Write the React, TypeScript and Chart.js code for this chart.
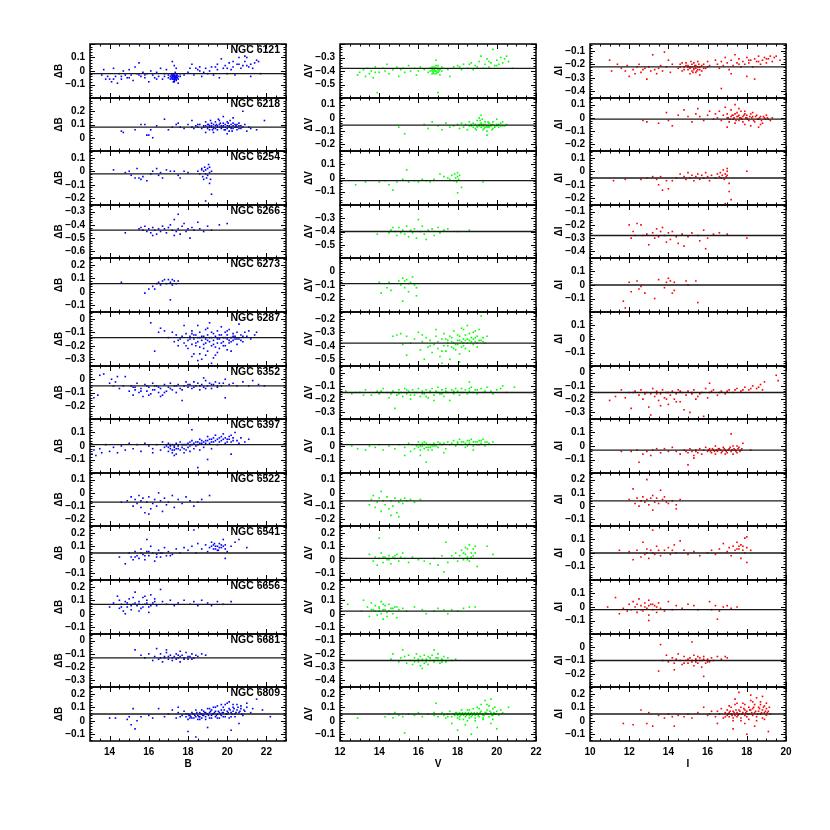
import React, { useEffect, useRef } from 'react';
import { Chart, registerables } from 'chart.js';
Chart.register(...registerables);

// ---------------- DATA ----------------
const CLUSTERS = ['NGC 6121', 'NGC 6218', 'NGC 6254', 'NGC 6266', 'NGC 6273', 'NGC 6287', 'NGC 6352', 'NGC 6397', 'NGC 6522', 'NGC 6541', 'NGC 6656', 'NGC 6681', 'NGC 6809'];

const B_YMIN = [-0.2, -0.1, -0.25, -0.65, -0.15, -0.35, -0.3, -0.2, -0.25, -0.15, -0.15, -0.35, -0.15];
const B_YMAX = [0.2, 0.3, 0.15, -0.25, 0.25, 0.05, 0.1, 0.2, 0.15, 0.25, 0.25, 0.05, 0.25];
const B_MEAN = [-0.02, 0.08, -0.02, -0.44, 0.06, -0.14, -0.05, 0.01, -0.07, 0.05, 0.07, -0.13, 0.05];

const V_YMIN = [-0.6, -0.25, -0.2, -0.6, -0.3, -0.55, -0.35, -0.2, -0.25, -0.15, -0.15, -0.45, -0.15];
const V_YMAX = [-0.2, 0.15, 0.2, -0.2, 0.1, -0.15, 0.05, 0.2, 0.15, 0.25, 0.25, -0.05, 0.25];
const V_MEAN = [-0.38, -0.055, -0.02, -0.4, -0.09, -0.38, -0.15, 0.01, -0.06, 0.01, 0.02, -0.25, 0.05];

const I_YMIN = [-0.45, -0.25, -0.25, -0.45, -0.2, -0.2, -0.35, -0.2, -0.15, -0.2, -0.2, -0.3, -0.15];
const I_YMAX = [-0.05, 0.15, 0.15, -0.05, 0.2, 0.2, 0.05, 0.2, 0.25, 0.2, 0.2, 0.1, 0.25];
const I_MEAN = [-0.22, -0.01, -0.05, -0.28, 0.0, null, -0.15, -0.03, 0.04, 0.0, -0.02, -0.1, 0.05];

// flat [mag, delta, mag, delta, ...]
const B_6121 = [13.6,-0.03,13.7,0.01,13.9,-0.04,14.0,-0.06,14.1,-0.08,14.2,0.02,14.3,-0.04,14.4,-0.09,14.5,-0.02,14.6,-0.06,14.7,0.0,14.8,-0.03,14.9,-0.05,15.0,0.01,15.1,-0.03,15.2,-0.07,15.3,0.03,15.4,-0.02,15.5,0.06,15.6,-0.04,15.7,-0.01,15.8,-0.05,15.9,-0.02,16.0,-0.08,16.1,0.0,16.2,-0.03,16.3,-0.05,16.4,-0.01,16.5,-0.04,16.6,0.02,16.7,-0.06,16.8,-0.02,16.9,0.01,17.0,-0.03,17.1,-0.04,17.15,-0.05,17.2,-0.03,17.2,-0.06,17.25,-0.04,17.3,-0.02,17.3,-0.05,17.3,-0.07,17.35,-0.04,17.4,-0.03,17.4,-0.06,17.45,-0.05,17.5,-0.04,17.2,0.07,17.3,0.04,17.4,0.02,17.5,-0.09,17.6,-0.02,17.25,-0.08,17.35,-0.01,17.8,-0.03,18.0,-0.01,18.2,0.05,18.3,-0.03,18.5,0.01,18.6,0.03,18.7,-0.04,18.9,0.02,19.0,-0.02,19.1,0.0,19.3,-0.03,19.4,0.03,19.5,0.01,19.6,-0.05,19.8,0.02,19.9,0.04,20.0,-0.02,20.1,0.06,20.2,0.01,20.3,0.03,20.4,-0.03,20.5,0.05,20.6,0.1,20.7,0.02,20.8,0.04,20.9,0.07,21.0,0.1,21.1,0.03,21.2,0.05,21.3,0.02,21.4,0.06,21.6,0.07,21.7,-0.02,20.9,0.11,18.4,0.02,19.7,0.09,21.2,-0.04];
const B_6121_CORE = [17.2,-0.05,17.25,-0.03,17.3,-0.04,17.35,-0.06,17.4,-0.05,17.3,-0.03,17.2,-0.04,17.45,-0.03,17.3,-0.06,17.35,-0.05,17.15,-0.03,17.4,-0.04,17.25,-0.06,17.5,-0.06,17.2,-0.02,17.3,-0.08,17.1,-0.06,17.4,-0.07,17.0,-0.05,17.6,-0.04,14.2,-0.06,15.0,-0.05,15.8,-0.03,16.4,-0.06,16.8,-0.04,18.1,0.02,18.8,-0.01,19.2,0.03,20.0,0.02,20.6,0.05,21.5,0.08,19.5,0.05,20.3,0.07,21.0,0.04,18.6,0.0,15.5,-0.03,14.6,-0.04,13.8,-0.06];
const B_6218 = [14.6,0.05,14.7,0.04,15.3,0.06,15.6,0.1,15.8,0.1,15.9,0.02,16.0,0.02,16.1,0.06,16.2,0.0,16.4,0.09,16.8,0.14,17.0,0.06,17.2,0.08,17.4,0.1,17.5,0.11,17.6,0.08,17.8,0.07,18.0,0.1,18.2,0.13,18.3,0.07,18.4,0.09,18.5,0.08,18.6,0.1,18.7,0.07,18.8,0.09,18.9,0.12,19.0,0.08,19.0,0.1,19.1,0.06,19.1,0.09,19.2,0.11,19.2,0.08,19.3,0.07,19.3,0.1,19.4,0.09,19.4,0.12,19.5,0.08,19.5,0.06,19.6,0.1,19.6,0.13,19.7,0.09,19.7,0.07,19.8,0.11,19.8,0.08,19.9,0.1,19.9,0.06,20.0,0.09,20.0,0.12,20.1,0.08,20.1,0.05,20.2,0.1,20.2,0.07,20.3,0.09,20.3,0.11,20.4,0.08,20.5,0.06,20.5,0.1,20.6,0.09,20.7,0.07,20.8,0.08,20.9,0.1,21.0,0.05,21.1,0.08,21.2,0.07,21.5,0.06,21.9,0.13,20.8,0.2,19.8,0.16,20.3,0.15,18.9,0.04,19.3,0.04,20.0,0.03];
const B_6218_CORE = [18.8,0.08,18.9,0.09,19.0,0.07,19.1,0.08,19.2,0.09,19.3,0.08,19.4,0.07,19.5,0.09,19.6,0.08,19.7,0.08,19.8,0.09,19.9,0.08,20.0,0.07,20.1,0.09,20.2,0.08,20.3,0.07,20.4,0.1,20.5,0.08,20.6,0.07,20.7,0.09,19.05,0.1,19.25,0.06,19.45,0.1,19.65,0.11,19.85,0.06,20.05,0.11,20.25,0.05,20.45,0.09,19.15,0.13,19.55,0.14,20.15,0.13,20.6,0.11,18.5,0.1,18.2,0.08];
const B_6254 = [14.2,0.01,14.8,-0.01,15.0,0.0,15.1,-0.03,15.3,-0.05,15.4,0.02,15.5,-0.05,15.6,-0.06,15.7,-0.04,15.9,-0.07,16.1,-0.02,16.2,0.0,16.4,0.02,16.5,-0.03,16.6,-0.01,16.7,-0.05,16.9,0.01,17.1,0.0,17.3,0.0,17.5,-0.03,17.6,-0.05,17.8,0.0,18.0,-0.01,18.5,0.0,18.6,-0.02,18.7,0.02,18.75,-0.04,18.8,0.0,18.85,0.03,18.9,-0.02,18.9,0.01,18.95,-0.05,19.0,0.02,19.0,-0.03,19.05,0.05,19.1,-0.01,19.1,0.03,19.15,-0.06,19.2,0.0,19.1,-0.09,19.2,-0.17,18.9,-0.22,18.7,0.01,18.8,-0.06];
const B_6266 = [14.8,-0.46,15.5,-0.43,15.6,-0.42,15.7,-0.44,15.8,-0.41,15.9,-0.45,16.0,-0.43,16.1,-0.46,16.2,-0.42,16.3,-0.44,16.4,-0.47,16.5,-0.43,16.6,-0.45,16.7,-0.41,16.8,-0.43,16.9,-0.46,17.0,-0.42,17.1,-0.4,17.2,-0.44,17.3,-0.36,17.4,-0.45,17.5,-0.32,17.5,-0.43,17.6,-0.47,17.7,-0.41,17.8,-0.39,17.9,-0.45,18.0,-0.43,18.1,-0.5,18.2,-0.42,18.3,-0.44,18.5,-0.38,18.6,-0.43,18.8,-0.45,19.0,-0.41,19.2,-0.44,19.6,-0.4,20.0,-0.39,17.3,-0.48,16.2,-0.48];
const B_6273 = [14.6,0.07,15.8,-0.01,16.0,0.02,16.2,0.04,16.4,0.06,16.5,0.07,16.6,0.05,16.7,0.08,16.8,0.09,16.9,0.06,17.0,0.09,17.1,0.07,17.2,0.05,17.2,0.09,17.3,0.08,17.4,0.06,17.5,0.08,17.1,-0.06,16.3,0.02];
const B_6287 = [16.1,-0.03,16.3,-0.24,16.5,-0.1,16.6,-0.07,16.8,-0.09,17.0,-0.14,17.2,-0.1,17.3,-0.17,17.4,-0.12,17.5,-0.2,17.6,-0.15,17.7,-0.13,17.8,-0.18,17.9,-0.11,18.0,-0.16,18.0,-0.22,18.1,-0.13,18.2,-0.09,18.2,-0.19,18.3,-0.15,18.3,-0.26,18.4,-0.12,18.4,-0.18,18.5,-0.05,18.5,-0.14,18.6,-0.21,18.6,-0.1,18.7,-0.16,18.7,-0.3,18.8,-0.13,18.8,-0.19,18.9,-0.08,18.9,-0.15,19.0,-0.24,19.0,-0.12,19.1,-0.17,19.1,-0.03,19.2,-0.14,19.2,-0.2,19.3,-0.11,19.3,-0.16,19.4,-0.27,19.4,-0.13,19.5,-0.09,19.5,-0.18,19.6,-0.15,19.6,-0.22,19.7,-0.12,19.7,-0.06,19.8,-0.17,19.8,-0.14,19.9,-0.2,19.9,-0.1,20.0,-0.15,20.0,-0.12,20.1,-0.18,20.1,-0.08,20.2,-0.14,20.2,-0.24,20.3,-0.11,20.3,-0.16,20.4,-0.13,20.5,-0.19,20.5,-0.1,20.6,-0.15,20.7,-0.12,20.8,-0.17,20.9,-0.1,21.0,-0.13,21.2,-0.15,21.4,-0.12,21.5,-0.1,18.5,-0.31,19.2,-0.33,18.2,-0.28,17.8,-0.05,20.6,-0.04,21.1,-0.09];
const B_6287_CORE = [18.1,-0.15,18.3,-0.12,18.5,-0.17,18.7,-0.13,18.9,-0.18,19.1,-0.14,19.3,-0.19,19.5,-0.15,19.7,-0.18,19.9,-0.14,20.1,-0.16,20.3,-0.13,20.5,-0.15,20.7,-0.16,18.2,-0.11,18.4,-0.2,18.6,-0.14,18.8,-0.22,19.0,-0.16,19.2,-0.1,19.4,-0.21,19.6,-0.12,19.8,-0.2,20.0,-0.09,20.2,-0.17,20.4,-0.15,19.0,-0.07,19.5,-0.25,18.6,-0.26,20.0,-0.23,20.8,-0.13,19.3,-0.29,18.9,-0.27,17.9,-0.2,17.5,-0.16];
const B_6352 = [13.2,-0.14,13.4,-0.12,13.5,0.03,13.7,0.04,14.0,-0.03,14.1,0.0,14.3,-0.02,14.5,-0.07,14.7,-0.05,14.8,0.02,15.0,-0.09,15.1,-0.05,15.2,-0.12,15.3,-0.08,15.4,-0.03,15.5,-0.1,15.6,-0.07,15.7,-0.13,15.8,-0.04,15.9,-0.09,16.0,-0.06,16.1,-0.11,16.2,-0.03,16.3,-0.08,16.4,-0.05,16.5,-0.1,16.6,-0.07,16.7,-0.12,16.8,-0.04,16.9,-0.09,17.0,-0.06,17.1,-0.03,17.2,-0.08,17.3,-0.05,17.4,-0.1,17.5,-0.04,17.6,-0.07,17.7,-0.16,17.8,-0.05,17.9,-0.02,18.0,-0.06,18.1,-0.04,18.2,-0.07,18.3,-0.02,18.4,-0.05,18.5,-0.03,18.6,-0.08,18.7,-0.04,18.8,-0.06,18.9,-0.01,19.0,-0.05,19.1,-0.03,19.2,-0.07,19.3,-0.04,19.4,-0.02,19.5,-0.06,19.6,-0.03,19.7,-0.05,19.9,0.0,20.1,-0.04,20.3,-0.03,20.5,-0.05,20.8,-0.02,21.1,-0.05,21.3,-0.01,21.6,-0.04,21.9,-0.05,19.9,-0.14,16.3,-0.05,14.4,0.02,18.8,0.01];
const B_6352_CORE = [15.3,-0.06,15.6,-0.09,15.9,-0.05,16.2,-0.08,16.5,-0.06,16.8,-0.1,17.1,-0.07,17.4,-0.05,17.7,-0.08,18.0,-0.04,18.3,-0.06,18.6,-0.05,18.9,-0.07,19.2,-0.04,19.5,-0.05,19.8,-0.03,16.0,-0.12,16.6,-0.13,15.2,-0.06,14.2,-0.05];
const B_6397 = [13.1,-0.06,13.2,-0.03,13.3,-0.07,13.5,-0.02,13.6,-0.05,13.8,0.01,14.0,-0.04,14.2,-0.01,14.4,-0.05,14.6,0.0,14.8,-0.03,15.0,0.02,15.2,-0.02,15.4,0.01,15.6,-0.04,15.8,0.02,16.0,0.0,16.2,-0.02,16.4,0.01,16.6,-0.03,16.7,0.03,16.8,-0.01,16.9,0.0,17.0,-0.04,17.0,0.02,17.1,-0.02,17.1,0.0,17.2,-0.05,17.2,0.01,17.3,-0.01,17.3,-0.03,17.4,0.02,17.4,-0.06,17.5,0.0,17.5,-0.02,17.6,0.03,17.7,-0.01,17.8,0.01,17.9,-0.03,18.0,0.02,18.1,0.0,18.2,0.04,18.3,-0.02,18.4,0.03,18.5,0.01,18.6,0.05,18.7,0.02,18.8,-0.01,18.9,0.04,19.0,0.07,19.1,0.02,19.2,0.05,19.3,0.03,19.4,0.08,19.5,0.01,19.6,0.06,19.7,0.04,19.8,0.09,19.9,0.02,20.0,0.05,20.1,0.07,20.2,0.03,20.3,0.06,20.4,0.1,20.5,0.04,20.6,0.02,20.7,0.06,20.9,0.03,21.1,0.05,18.2,0.12,19.0,-0.1,18.5,-0.16,20.2,-0.06,17.8,-0.05,16.2,-0.05];
const B_6397_CORE = [17.0,-0.01,17.1,0.01,17.2,-0.03,17.3,0.0,17.4,-0.02,17.5,0.01,17.6,-0.03,17.7,0.01,17.8,-0.02,17.9,0.01,18.0,-0.01,18.1,0.03,18.2,0.01,18.3,0.02,18.4,0.0,18.5,0.03,18.6,0.02,18.7,0.04,18.8,0.03,18.9,0.02,19.0,0.04,19.1,0.05,19.2,0.03,19.3,0.06,19.4,0.04,19.5,0.05,19.6,0.03,19.7,0.07,19.8,0.05,19.9,0.06,20.0,0.03,20.1,0.05,20.2,0.08,20.3,0.04,17.3,-0.07,18.1,-0.04,18.6,-0.03,19.2,-0.02];
const B_6522 = [14.6,-0.07,14.9,-0.06,15.1,-0.03,15.2,-0.1,15.3,-0.05,15.4,-0.08,15.5,-0.02,15.6,-0.11,15.6,-0.06,15.7,-0.04,15.8,-0.15,15.9,-0.07,16.0,-0.03,16.1,-0.12,16.2,-0.08,16.3,-0.05,16.4,-0.1,16.5,0.0,16.6,-0.06,16.7,-0.14,16.8,-0.04,16.9,-0.09,17.0,-0.07,17.2,-0.02,17.3,-0.11,17.5,-0.05,17.7,-0.08,17.9,-0.03,18.1,-0.06,18.3,-0.1,18.5,-0.07,18.7,-0.05,16.0,-0.16,19.1,-0.02];
const B_6541 = [14.5,0.02,14.8,-0.03,15.0,0.05,15.1,0.02,15.2,0.0,15.3,0.06,15.4,0.03,15.5,0.01,15.6,0.08,15.7,0.04,15.8,0.0,15.9,0.06,16.0,0.03,16.1,0.1,16.2,0.05,16.3,-0.01,16.4,0.04,16.5,0.07,16.6,0.02,16.7,0.05,16.8,0.09,16.9,0.03,17.0,0.06,17.2,0.04,17.4,0.08,17.6,0.05,17.8,0.09,18.0,0.07,18.2,0.1,18.4,0.05,18.5,0.12,18.7,0.08,18.9,0.11,19.0,0.06,19.1,0.09,19.2,0.13,19.3,0.08,19.4,0.1,19.5,0.07,19.6,0.12,19.7,0.09,19.8,0.15,19.9,0.11,20.0,0.06,20.2,0.1,20.4,0.13,20.6,0.15,21.0,0.09,18.3,0.22,19.9,0.01,15.9,0.15];
const B_6541_CORE = [19.2,0.1,19.3,0.11,19.4,0.08,19.5,0.1,19.6,0.09,19.7,0.11,19.8,0.1,19.9,0.08,19.35,0.12,19.55,0.07,15.6,0.05,15.8,0.03,16.0,0.06,16.4,0.02,16.6,0.05,17.1,0.03,15.3,0.02];
const B_6656 = [14.0,0.05,14.2,0.08,14.4,0.13,14.5,0.04,14.6,0.07,14.7,0.02,14.8,0.09,14.9,0.05,15.0,0.11,15.1,0.03,15.2,0.07,15.3,0.16,15.4,0.06,15.5,0.09,15.6,0.04,15.7,0.12,15.8,0.07,15.9,0.1,16.0,0.05,16.1,0.14,16.2,0.08,16.3,0.11,16.4,0.06,16.6,0.18,16.7,0.09,16.9,0.07,17.1,0.1,17.3,0.06,17.5,0.08,17.8,0.1,18.1,0.07,18.3,0.09,18.5,0.06,18.7,0.1,19.0,0.08,19.2,0.06,19.5,0.09,19.8,0.07,20.2,0.09,15.5,0.02,14.8,0.0];
const B_6656_CORE = [14.6,0.05,14.9,0.08,15.1,0.06,15.3,0.08,15.5,0.07,15.7,0.05,15.9,0.08,16.1,0.06,16.3,0.09,14.5,0.1,15.2,0.12,15.8,0.13,16.0,0.01];
const B_6681 = [15.3,-0.07,15.6,-0.11,15.8,-0.13,16.0,-0.1,16.2,-0.15,16.3,-0.12,16.4,-0.06,16.5,-0.14,16.6,-0.1,16.7,-0.16,16.8,-0.12,16.9,-0.09,17.0,-0.14,17.1,-0.11,17.2,-0.15,17.3,-0.12,17.4,-0.1,17.5,-0.13,17.6,-0.16,17.7,-0.11,17.8,-0.13,17.9,-0.09,18.0,-0.14,18.1,-0.12,18.2,-0.1,18.3,-0.13,18.4,-0.11,18.5,-0.12,18.7,-0.1,18.9,-0.11,16.9,-0.07,17.6,-0.08];
const B_6681_CORE = [16.8,-0.13,17.0,-0.12,17.2,-0.13,17.4,-0.14,17.6,-0.12,17.8,-0.14,18.0,-0.12,18.2,-0.14,16.6,-0.13,17.5,-0.11];
const B_6809 = [14.0,0.02,14.3,0.02,14.9,0.01,15.0,0.03,15.1,-0.03,15.2,0.09,15.3,-0.06,15.4,0.0,15.6,0.03,16.0,0.04,16.2,0.02,16.5,0.09,16.8,0.03,17.0,0.05,17.2,0.08,17.4,0.02,17.5,0.06,17.7,0.04,17.8,0.07,17.9,0.03,18.0,0.05,18.0,0.01,18.1,0.04,18.2,0.06,18.2,0.02,18.3,0.05,18.4,0.03,18.4,0.08,18.5,0.04,18.5,0.01,18.6,0.06,18.6,0.03,18.7,0.05,18.7,0.02,18.8,0.07,18.8,0.04,18.9,0.03,18.9,0.06,19.0,0.05,19.0,0.09,19.1,0.02,19.1,0.06,19.2,0.04,19.2,0.08,19.3,0.05,19.3,0.1,19.4,0.03,19.4,0.07,19.5,0.05,19.5,0.11,19.6,0.06,19.6,0.02,19.7,0.08,19.7,0.04,19.8,0.1,19.8,0.06,19.9,0.03,19.9,0.12,20.0,0.07,20.0,0.05,20.1,0.09,20.1,0.14,20.2,0.06,20.2,0.03,20.3,0.1,20.3,0.07,20.4,0.05,20.5,0.08,20.5,0.12,20.6,0.06,20.7,0.09,20.8,0.04,20.9,0.07,21.0,0.1,21.2,0.06,21.5,0.16,21.8,0.08,22.2,0.03,18.0,-0.08,18.4,-0.12,19.0,-0.05,20.2,-0.07,20.6,-0.02,17.5,0.1];
const B_6809_CORE = [18.05,0.04,18.15,0.03,18.25,0.05,18.35,0.04,18.45,0.06,18.55,0.03,18.65,0.05,18.75,0.04,18.85,0.06,18.95,0.05,19.05,0.04,19.15,0.07,19.25,0.05,19.35,0.06,19.45,0.04,19.55,0.07,19.65,0.05,19.75,0.06,19.85,0.08,19.95,0.05,20.05,0.06,20.15,0.08,20.25,0.05,20.35,0.09,20.45,0.06,20.55,0.1,20.65,0.07,20.75,0.05,20.85,0.08,18.1,0.02,18.3,0.02,18.6,0.01,18.9,0.01,19.2,0.02,19.5,0.02,19.8,0.03,20.1,0.02,20.4,0.03,19.4,0.1,19.7,0.12,20.0,0.13,20.3,0.12,20.7,0.11,21.0,0.13,21.3,0.09,19.1,0.09,18.7,0.08,17.9,0.05,17.6,0.03];

const V_6121 = [12.9,-0.43,13.0,-0.41,13.2,-0.39,13.3,-0.44,13.4,-0.38,13.5,-0.42,13.6,-0.4,13.7,-0.45,13.8,-0.37,13.9,-0.56,14.0,-0.41,14.2,-0.38,14.4,-0.35,14.5,-0.42,14.7,-0.39,14.9,-0.37,15.0,-0.44,15.2,-0.38,15.3,-0.41,15.5,-0.36,15.6,-0.4,15.8,-0.38,15.9,-0.43,16.1,-0.37,16.3,-0.39,16.5,-0.41,16.6,-0.38,16.7,-0.4,16.7,-0.37,16.8,-0.39,16.8,-0.42,16.85,-0.38,16.9,-0.4,16.9,-0.36,17.0,-0.41,17.0,-0.38,17.1,-0.39,17.1,-0.43,16.9,-0.32,17.2,-0.37,17.5,-0.39,17.6,-0.44,17.8,-0.37,18.0,-0.36,18.2,-0.39,18.3,-0.35,18.5,-0.38,18.7,-0.34,18.8,-0.39,19.0,-0.37,19.1,-0.33,19.3,-0.38,19.4,-0.35,19.5,-0.31,19.6,-0.37,19.7,-0.34,19.8,-0.24,19.9,-0.36,20.0,-0.32,20.1,-0.35,20.2,-0.3,20.3,-0.34,20.5,-0.29,20.6,-0.33,20.8,-0.38,19.2,-0.29,17.0,-0.56];
const V_6121_CORE = [16.7,-0.39,16.75,-0.41,16.8,-0.37,16.85,-0.4,16.9,-0.38,16.95,-0.41,17.0,-0.39,17.05,-0.4,16.8,-0.4,16.9,-0.42,17.0,-0.36,16.7,-0.42,16.6,-0.4,17.2,-0.4,13.8,-0.41,14.3,-0.4,15.1,-0.39,16.0,-0.4,18.1,-0.37,18.9,-0.36,19.6,-0.33,20.4,-0.31,20.0,-0.36,18.6,-0.35];
const V_6218 = [15.0,-0.07,15.3,-0.12,16.3,-0.05,16.5,-0.08,16.7,-0.03,17.0,-0.06,17.2,-0.09,17.4,-0.04,17.6,-0.07,17.8,-0.06,18.0,-0.05,18.1,-0.08,18.2,-0.04,18.3,-0.07,18.4,-0.05,18.5,-0.09,18.6,-0.03,18.7,-0.06,18.8,-0.04,18.9,-0.08,19.0,-0.02,19.0,-0.06,19.1,0.0,19.1,-0.05,19.2,-0.07,19.2,-0.04,19.3,-0.09,19.3,-0.05,19.4,-0.03,19.4,-0.07,19.5,-0.06,19.5,-0.1,19.6,-0.04,19.6,-0.07,19.7,-0.05,19.8,-0.08,19.8,-0.03,19.9,-0.06,20.0,-0.05,20.1,-0.07,20.2,-0.04,20.3,-0.06,20.5,-0.05,19.5,-0.13,19.2,0.02,20.0,-0.01];
const V_6218_CORE = [18.6,-0.06,18.7,-0.05,18.8,-0.07,18.9,-0.05,19.0,-0.07,19.1,-0.06,19.2,-0.05,19.3,-0.06,19.4,-0.05,19.5,-0.07,19.6,-0.06,19.7,-0.06,19.8,-0.05,19.9,-0.07,20.0,-0.06,20.1,-0.05,20.2,-0.06,20.4,-0.06,19.15,-0.02,19.35,-0.08,19.55,-0.03,19.75,-0.09,19.25,-0.01,18.95,-0.09,20.3,-0.03];
const V_6254 = [12.8,-0.05,13.3,-0.03,14.0,-0.03,14.3,-0.02,14.5,-0.05,14.7,-0.09,14.9,-0.03,15.2,-0.01,15.4,0.06,15.5,-0.03,15.8,-0.02,16.0,-0.03,16.2,-0.01,16.4,-0.02,16.6,-0.03,16.8,-0.01,17.1,0.03,17.3,0.01,17.5,0.0,17.6,-0.01,17.7,0.02,17.8,-0.02,17.85,0.03,17.9,0.0,17.95,-0.03,18.0,0.01,18.0,0.04,18.05,-0.01,18.1,0.02,18.2,-0.07,18.0,-0.11,19.3,-0.03];
const V_6266 = [13.9,-0.42,14.5,-0.41,14.6,-0.39,14.7,-0.37,14.8,-0.4,14.9,-0.43,15.0,-0.37,15.1,-0.41,15.2,-0.39,15.3,-0.42,15.4,-0.36,15.5,-0.44,15.6,-0.39,15.7,-0.41,15.8,-0.38,16.0,-0.31,16.1,-0.4,16.2,-0.36,16.3,-0.42,16.5,-0.39,16.7,-0.38,16.8,-0.43,17.0,-0.37,17.1,-0.41,17.3,-0.39,17.5,-0.38,18.0,-0.4,18.6,-0.39,15.9,-0.45,16.4,-0.46];
const V_6273 = [14.0,-0.08,14.1,-0.16,14.4,-0.12,14.5,-0.08,14.6,-0.14,15.0,-0.07,15.1,-0.1,15.2,-0.05,15.3,-0.07,15.3,-0.12,15.4,-0.06,15.5,-0.09,15.5,-0.15,15.6,-0.08,15.7,-0.04,15.8,-0.1,15.9,-0.18,15.9,-0.12,15.2,-0.22];
const V_6287 = [14.7,-0.33,14.9,-0.32,15.1,-0.31,15.2,-0.39,15.4,-0.33,15.4,-0.47,15.6,-0.38,15.8,-0.35,16.0,-0.3,16.1,-0.43,16.2,-0.37,16.3,-0.5,16.4,-0.34,16.5,-0.41,16.6,-0.36,16.7,-0.45,16.8,-0.39,16.9,-0.33,17.0,-0.42,17.0,-0.37,17.1,-0.48,17.2,-0.35,17.3,-0.4,17.3,-0.31,17.4,-0.44,17.5,-0.38,17.5,-0.36,17.6,-0.5,17.7,-0.34,17.7,-0.41,17.8,-0.38,17.8,-0.29,17.9,-0.43,18.0,-0.36,18.0,-0.39,18.1,-0.33,18.1,-0.46,18.2,-0.37,18.2,-0.27,18.3,-0.4,18.3,-0.35,18.4,-0.42,18.4,-0.32,18.5,-0.38,18.5,-0.25,18.6,-0.36,18.6,-0.44,18.7,-0.34,18.8,-0.39,18.8,-0.3,18.9,-0.37,19.0,-0.33,19.0,-0.41,19.1,-0.28,19.2,-0.36,19.3,-0.34,19.4,-0.38,19.5,-0.33,17.2,-0.53,18.1,-0.52,19.2,-0.18,16.9,-0.28];
const V_6287_CORE = [17.5,-0.4,17.7,-0.37,17.9,-0.39,18.1,-0.36,18.3,-0.38,18.5,-0.35,18.7,-0.37,18.9,-0.34,19.1,-0.36,19.3,-0.37,17.6,-0.33,17.8,-0.42,18.0,-0.32,18.2,-0.41,18.4,-0.36,18.6,-0.31,18.8,-0.35,19.0,-0.38,17.4,-0.35,18.9,-0.29,18.3,-0.28,17.2,-0.44,16.6,-0.4,16.2,-0.32];
const V_6352 = [12.3,-0.14,12.6,-0.16,13.0,-0.15,13.3,-0.13,13.6,-0.17,13.9,-0.14,14.0,-0.16,14.2,-0.12,14.4,-0.15,14.5,-0.19,14.7,-0.14,14.8,-0.27,14.9,-0.17,15.0,-0.13,15.1,-0.15,15.2,-0.18,15.3,-0.12,15.4,-0.16,15.5,-0.14,15.6,-0.2,15.7,-0.13,15.8,-0.17,15.9,-0.15,16.0,-0.12,16.1,-0.18,16.2,-0.14,16.3,-0.16,16.4,-0.13,16.5,-0.19,16.6,-0.15,16.7,-0.12,16.8,-0.17,16.9,-0.14,17.0,-0.11,17.1,-0.16,17.2,-0.13,17.3,-0.18,17.4,-0.12,17.5,-0.15,17.6,-0.21,17.7,-0.13,17.8,-0.16,17.9,-0.12,18.0,-0.14,18.1,-0.17,18.2,-0.12,18.3,-0.15,18.4,-0.13,18.5,-0.16,18.6,-0.14,18.7,-0.11,18.8,-0.15,18.9,-0.13,19.0,-0.16,19.2,-0.12,19.3,-0.15,19.5,-0.11,19.7,-0.14,19.8,-0.16,20.0,-0.13,20.3,-0.1,20.5,-0.15,20.9,-0.11,18.6,-0.07,16.8,-0.21];
const V_6352_CORE = [14.1,-0.14,14.6,-0.16,15.0,-0.16,15.4,-0.13,15.8,-0.15,16.2,-0.16,16.6,-0.14,17.0,-0.15,17.4,-0.14,17.8,-0.14,18.2,-0.15,18.6,-0.12,19.0,-0.13,19.4,-0.14,15.6,-0.17,16.4,-0.18,17.2,-0.16,13.2,-0.17,12.8,-0.15,20.2,-0.12];
const V_6397 = [12.6,0.0,12.9,-0.02,13.3,-0.03,13.5,0.0,13.8,-0.01,14.0,0.01,14.2,-0.03,14.5,0.0,14.8,-0.02,15.0,0.01,15.3,-0.01,15.5,0.02,15.6,-0.04,15.7,0.01,15.8,-0.02,15.9,0.0,16.0,0.03,16.0,-0.01,16.1,0.01,16.1,-0.03,16.2,0.0,16.3,-0.02,16.4,0.02,16.5,-0.01,16.6,0.01,16.7,-0.03,16.8,0.02,16.9,0.0,17.0,0.03,17.2,0.01,17.4,-0.02,17.5,0.03,17.6,0.01,17.8,0.04,17.9,0.0,18.0,0.02,18.1,0.05,18.2,0.01,18.3,0.03,18.4,-0.01,18.5,0.04,18.6,0.02,18.7,0.05,18.8,0.0,18.9,0.03,19.0,0.01,19.1,0.04,19.2,0.02,19.3,0.05,19.4,0.0,19.5,0.03,19.6,0.02,19.8,0.03,16.1,-0.07,16.4,-0.12,15.3,-0.07,17.3,-0.05,18.8,-0.03];
const V_6397_CORE = [16.0,0.01,16.1,0.0,16.2,0.02,16.3,0.01,16.4,-0.01,16.5,0.01,16.6,-0.01,16.7,0.0,16.8,0.0,17.1,0.02,17.3,0.02,17.7,0.02,18.0,0.03,18.2,0.03,18.4,0.02,18.6,0.04,18.8,0.03,19.0,0.03,19.2,0.04,19.4,0.03,16.3,0.03,16.5,-0.03,17.0,-0.01,18.5,0.0,19.1,0.01];
const V_6522 = [13.5,-0.09,13.6,-0.05,13.7,-0.02,13.8,-0.11,13.9,-0.07,14.0,-0.04,14.1,-0.14,14.1,0.01,14.2,-0.06,14.3,-0.09,14.4,-0.03,14.5,-0.12,14.6,-0.06,14.7,-0.1,14.8,-0.04,14.9,-0.15,15.0,-0.07,15.1,-0.05,15.2,-0.08,15.3,-0.04,15.4,-0.06,15.6,-0.05,15.8,-0.07,16.1,-0.05,14.6,-0.17,15.0,-0.18];
const V_6541 = [12.3,0.01,13.5,0.04,13.7,-0.01,13.8,0.02,13.9,-0.04,14.0,0.01,14.0,0.16,14.1,0.05,14.2,-0.02,14.3,0.02,14.4,0.0,14.5,0.03,14.6,-0.03,14.7,0.02,14.8,0.01,14.9,0.04,15.0,-0.01,15.1,0.02,15.2,0.05,15.3,0.01,15.5,-0.02,15.7,0.02,16.0,0.0,16.3,-0.01,16.6,-0.03,16.8,0.01,17.0,-0.04,17.2,0.03,17.4,0.13,17.5,-0.02,17.7,0.03,17.8,0.01,17.9,0.05,18.0,-0.01,18.1,0.03,18.2,0.07,18.3,0.0,18.4,0.04,18.5,0.08,18.5,0.02,18.6,0.11,18.6,-0.01,18.7,0.05,18.8,0.03,18.9,0.1,19.0,-0.05,19.5,0.1,19.8,0.04,17.3,-0.09];
const V_6541_CORE = [18.3,0.05,18.5,0.0,18.7,0.02,18.9,0.05,18.4,0.09,18.8,0.08,14.2,0.02,14.5,0.0,14.8,0.03];
const V_6656 = [12.0,0.0,12.2,0.1,12.4,0.07,13.1,0.02,13.2,0.1,13.4,0.05,13.5,-0.02,13.6,0.08,13.7,0.03,13.8,0.06,13.9,-0.01,14.0,0.05,14.0,0.02,14.1,0.09,14.2,0.03,14.2,-0.04,14.3,0.06,14.4,0.01,14.4,-0.02,14.5,0.07,14.6,0.04,14.7,0.0,14.8,0.05,14.9,-0.03,15.0,0.03,15.2,0.04,15.4,0.02,15.8,0.05,16.2,0.03,16.4,0.0,16.8,0.02,17.0,0.04,17.3,0.03,17.5,0.0,17.7,0.03,18.0,0.02,18.3,0.04,18.6,0.05,18.9,0.05,14.0,-0.12];
const V_6656_CORE = [13.8,0.02,14.0,0.04,14.1,0.0,14.3,0.03,14.5,0.02,14.7,0.04,14.2,0.07,14.9,0.05,13.6,0.03];
const V_6681 = [14.6,-0.24,14.7,-0.2,15.0,-0.26,15.1,-0.23,15.2,-0.17,15.3,-0.22,15.4,-0.27,15.5,-0.21,15.6,-0.25,15.7,-0.28,15.8,-0.23,15.9,-0.2,16.0,-0.26,16.1,-0.29,16.1,-0.22,16.2,-0.25,16.3,-0.21,16.3,-0.27,16.4,-0.24,16.5,-0.22,16.5,-0.28,16.6,-0.25,16.7,-0.21,16.8,-0.26,16.9,-0.23,17.0,-0.25,17.0,-0.2,17.1,-0.27,17.2,-0.24,17.3,-0.22,17.4,-0.26,17.5,-0.23,17.7,-0.25,17.9,-0.24,16.2,-0.31,16.8,-0.17];
const V_6681_CORE = [16.2,-0.24,16.4,-0.26,16.6,-0.23,16.8,-0.25,17.0,-0.23,17.2,-0.26,16.0,-0.24,15.8,-0.26];
const V_6809 = [12.9,0.02,14.3,0.03,14.5,0.05,14.7,0.02,14.8,0.06,15.0,0.04,15.2,0.03,15.3,-0.09,15.5,0.05,15.8,0.04,16.0,0.06,16.2,0.03,16.5,0.05,16.8,0.04,16.9,0.13,17.0,0.03,17.2,0.06,17.3,0.04,17.4,0.02,17.5,0.05,17.6,0.07,17.7,0.03,17.8,0.05,17.9,0.06,18.0,0.04,18.0,0.02,18.1,0.06,18.1,0.03,18.2,0.05,18.2,0.08,18.3,0.04,18.3,0.01,18.4,0.06,18.4,0.03,18.5,0.05,18.5,0.08,18.6,0.04,18.6,0.02,18.7,0.06,18.7,0.03,18.8,0.05,18.8,0.09,18.9,0.04,18.9,0.02,19.0,0.06,19.0,0.1,19.1,0.03,19.1,0.05,19.2,0.07,19.2,0.12,19.3,0.04,19.3,0.02,19.4,0.06,19.4,0.15,19.5,0.05,19.5,0.08,19.6,0.03,19.6,0.11,19.7,0.06,19.7,0.16,19.8,0.04,19.8,0.09,19.9,0.05,20.0,0.07,20.1,0.04,20.3,0.06,20.6,0.1,18.0,-0.07,18.4,-0.03,18.7,-0.1,19.0,-0.05,19.7,-0.02,20.0,-0.06,17.7,-0.02];
const V_6809_CORE = [18.05,0.05,18.15,0.04,18.25,0.06,18.35,0.05,18.45,0.04,18.55,0.06,18.65,0.05,18.75,0.04,18.85,0.06,18.95,0.05,19.05,0.04,19.15,0.06,19.25,0.05,19.35,0.04,19.45,0.06,19.55,0.05,19.65,0.07,19.75,0.04,19.85,0.06,19.95,0.05,17.85,0.04,17.95,0.06,18.1,0.01,18.5,0.0,18.9,0.0,19.3,0.01,19.8,0.01,19.1,0.09,19.5,0.12,19.9,0.1,20.2,0.08,18.6,0.08,17.5,0.03,16.8,0.06];

const I_6121 = [11.0,-0.17,11.1,-0.25,11.4,-0.2,11.6,-0.23,11.8,-0.25,11.9,-0.21,12.0,-0.29,12.2,-0.24,12.3,-0.27,12.4,-0.22,12.5,-0.2,12.6,-0.26,12.8,-0.23,12.9,-0.31,13.0,-0.22,13.1,-0.25,13.2,-0.13,13.3,-0.24,13.4,-0.27,13.6,-0.21,13.7,-0.25,13.8,-0.11,13.9,-0.22,14.0,-0.17,14.1,-0.26,14.2,-0.2,14.5,-0.23,14.6,-0.2,14.7,-0.25,14.8,-0.22,14.9,-0.19,15.0,-0.24,15.0,-0.21,15.1,-0.27,15.1,-0.22,15.2,-0.2,15.2,-0.25,15.3,-0.23,15.3,-0.19,15.4,-0.26,15.4,-0.21,15.5,-0.24,15.5,-0.18,15.6,-0.22,15.7,-0.25,15.8,-0.2,15.9,-0.23,16.0,-0.18,16.1,-0.21,15.6,-0.28,16.4,-0.17,16.5,-0.2,16.6,-0.23,16.7,-0.18,16.8,-0.21,16.9,-0.15,17.0,-0.19,17.1,-0.24,17.2,-0.17,17.3,-0.21,17.4,-0.13,17.5,-0.19,17.6,-0.16,17.7,-0.22,17.8,-0.18,17.9,-0.2,18.0,-0.15,18.1,-0.19,18.2,-0.17,18.3,-0.22,18.4,-0.16,18.5,-0.18,18.6,-0.14,18.7,-0.2,18.8,-0.17,18.9,-0.15,19.0,-0.19,19.1,-0.16,19.2,-0.14,19.3,-0.18,19.4,-0.15,19.7,-0.17,18.0,-0.29,17.2,-0.27,16.7,-0.38,18.4,-0.31];
const I_6121_CORE = [14.6,-0.22,14.8,-0.24,15.0,-0.22,15.1,-0.23,15.2,-0.22,15.3,-0.24,15.35,-0.21,15.4,-0.23,15.45,-0.25,15.5,-0.22,15.6,-0.24,15.7,-0.21,15.8,-0.23,14.9,-0.21,15.25,-0.26,15.55,-0.2,15.15,-0.18,14.7,-0.19,16.0,-0.22,17.6,-0.2,18.1,-0.17,18.6,-0.18,19.0,-0.16,19.5,-0.14,12.7,-0.24,13.5,-0.23];
const I_6218 = [12.7,-0.02,12.9,-0.03,13.5,-0.04,13.9,0.04,14.0,-0.02,14.2,-0.06,14.5,0.02,14.8,0.06,15.0,0.01,15.2,-0.03,15.4,0.03,15.5,0.07,15.6,0.01,15.8,-0.02,16.0,0.02,16.1,0.05,16.3,-0.01,16.4,0.03,16.5,0.0,16.6,0.05,16.7,-0.02,16.8,0.02,16.9,0.08,17.0,0.0,17.0,0.03,17.1,-0.03,17.2,0.01,17.2,0.06,17.3,-0.01,17.3,0.02,17.4,0.1,17.4,-0.04,17.5,0.01,17.5,0.04,17.6,-0.02,17.6,0.02,17.7,0.0,17.7,0.05,17.8,-0.03,17.8,0.01,17.9,0.03,17.9,-0.05,18.0,0.0,18.0,0.02,18.1,-0.02,18.2,0.03,18.2,-0.06,18.3,0.01,18.4,-0.03,18.5,0.02,18.6,-0.01,18.7,0.01,18.8,-0.04,18.9,0.0,19.0,0.02,19.1,-0.01,19.3,0.0,17.0,-0.07,18.6,-0.07];
const I_6218_CORE = [17.05,0.0,17.15,-0.01,17.25,0.02,17.35,0.0,17.45,-0.02,17.55,0.01,17.65,0.0,17.75,-0.01,17.85,0.02,17.95,0.0,18.05,-0.01,18.15,0.01,18.25,0.0,18.35,-0.02,18.45,0.01,18.55,-0.01,18.65,0.0,18.75,-0.02,18.85,0.01,18.95,-0.01,19.05,0.0,19.2,-0.02,17.4,0.03,17.9,0.05,18.3,0.04,18.7,-0.05,17.6,0.07];
const I_6254 = [11.2,-0.07,11.8,-0.06,12.6,-0.06,12.9,-0.05,13.2,-0.04,13.4,-0.06,13.5,-0.1,13.6,-0.04,13.7,-0.14,13.9,-0.07,14.0,-0.13,14.2,-0.07,14.4,-0.05,14.6,-0.02,14.8,-0.04,14.9,-0.06,15.0,-0.01,15.1,-0.05,15.2,-0.03,15.3,-0.07,15.4,-0.04,15.5,-0.02,15.6,-0.06,15.7,-0.03,15.8,-0.05,15.9,-0.01,16.0,-0.04,16.1,-0.07,16.2,-0.03,16.4,-0.05,16.5,-0.02,16.6,-0.04,16.65,-0.01,16.7,-0.05,16.75,-0.03,16.8,0.01,16.85,-0.06,16.9,-0.02,16.95,-0.04,17.0,0.0,17.0,-0.03,17.1,-0.09,17.1,-0.15,17.2,-0.21,17.0,0.02,18.0,0.0,16.9,-0.24];
const I_6266 = [12.0,-0.2,12.1,-0.3,12.2,-0.25,12.3,-0.28,12.4,-0.19,12.6,-0.2,12.7,-0.28,12.9,-0.27,13.0,-0.35,13.2,-0.26,13.3,-0.3,13.4,-0.23,13.5,-0.29,13.6,-0.25,13.7,-0.22,13.8,-0.28,13.9,-0.33,14.0,-0.26,14.1,-0.31,14.2,-0.25,14.4,-0.29,14.5,-0.34,14.7,-0.27,15.0,-0.29,15.2,-0.26,15.5,-0.28,15.6,-0.32,15.8,-0.24,15.9,-0.38,16.0,-0.3,16.3,-0.27,16.6,-0.26,17.0,-0.27,18.0,-0.3,14.8,-0.36];
const I_6273 = [11.7,-0.12,11.8,-0.17,12.0,0.02,12.1,-0.05,12.4,0.03,12.5,-0.03,12.6,-0.01,12.8,-0.06,13.3,-0.1,13.5,0.04,13.8,-0.02,13.9,0.02,14.0,0.05,14.1,0.03,14.2,-0.06,14.3,0.02,14.3,-0.04,14.9,0.03,15.0,0.0,15.4,0.03,15.5,-0.13];
const I_6287: number[] = [];
const I_6352 = [11.0,-0.21,11.3,-0.18,11.6,-0.13,11.8,-0.19,12.0,-0.15,12.1,-0.27,12.3,-0.14,12.5,-0.17,12.6,-0.13,12.7,-0.2,12.9,-0.15,13.0,-0.26,13.1,-0.16,13.2,-0.12,13.3,-0.18,13.4,-0.14,13.5,-0.21,13.6,-0.16,13.7,-0.13,13.8,-0.19,13.9,-0.15,14.0,-0.24,14.1,-0.17,14.2,-0.14,14.3,-0.2,14.4,-0.16,14.5,-0.13,14.6,-0.22,14.7,-0.15,14.8,-0.28,14.9,-0.17,15.0,-0.14,15.1,-0.3,15.2,-0.16,15.3,-0.13,15.5,-0.18,15.7,-0.15,15.8,-0.33,15.9,-0.12,16.0,-0.19,16.1,-0.15,16.3,-0.13,16.5,-0.17,16.7,-0.14,16.9,-0.16,17.1,-0.13,17.3,-0.15,17.5,-0.12,17.7,-0.14,17.9,-0.11,18.1,-0.13,18.3,-0.1,18.5,-0.12,18.7,-0.09,18.8,-0.13,18.9,-0.07,19.5,-0.02,19.6,-0.06,13.1,-0.32,16.1,-0.08];
const I_6352_CORE = [12.2,-0.15,12.8,-0.16,13.4,-0.16,14.0,-0.15,14.6,-0.14,15.2,-0.15,15.6,-0.16,16.2,-0.14,16.6,-0.15,17.0,-0.14,17.4,-0.13,17.8,-0.13,18.2,-0.12,18.6,-0.11,13.9,-0.2,14.4,-0.22,15.4,-0.2,13.6,-0.25];
const I_6397 = [11.6,-0.04,12.1,-0.04,12.4,-0.03,12.5,-0.12,12.7,-0.06,12.9,-0.04,13.1,-0.07,13.2,-0.03,13.4,-0.02,13.6,-0.05,13.8,-0.02,14.0,-0.04,14.2,-0.01,14.4,-0.04,14.6,-0.06,14.8,-0.03,15.0,-0.05,15.1,-0.02,15.2,-0.04,15.3,-0.07,15.4,-0.03,15.5,-0.05,15.6,-0.02,15.7,-0.06,15.8,-0.03,15.9,-0.01,16.0,-0.04,16.1,-0.02,16.2,-0.05,16.3,-0.03,16.4,0.0,16.5,-0.04,16.6,-0.02,16.7,-0.05,16.8,-0.01,16.9,-0.03,17.0,-0.05,17.1,-0.02,17.2,-0.04,17.3,0.0,17.4,-0.03,17.5,-0.05,17.6,-0.01,17.7,-0.03,17.8,0.02,18.2,-0.03,17.2,0.09,15.0,-0.14,15.3,-0.09,17.3,-0.06];
const I_6397_CORE = [16.05,-0.03,16.15,-0.04,16.25,-0.02,16.35,-0.04,16.45,-0.03,16.55,-0.02,16.65,-0.03,16.75,-0.04,16.85,-0.02,16.95,-0.04,17.05,-0.03,17.15,-0.01,17.25,-0.03,17.35,-0.02,17.45,-0.04,17.55,-0.02,17.65,-0.04,17.75,-0.02,16.4,-0.06,16.9,-0.06,17.5,0.0,15.4,-0.04,14.9,-0.04];
const I_6522 = [12.0,0.05,12.2,0.13,12.3,0.02,12.4,0.06,12.5,0.0,12.6,0.04,12.7,0.07,12.8,0.03,12.9,0.05,13.0,0.01,13.1,0.06,13.2,0.08,13.3,0.03,13.4,0.06,13.5,0.02,13.6,0.12,13.7,0.05,13.8,0.07,13.9,0.03,14.0,0.02,14.2,0.04,14.4,0.01,14.6,0.05,12.9,0.2,14.4,-0.02,13.2,-0.03];
const I_6541 = [11.5,0.02,12.0,0.01,12.2,-0.05,12.4,0.02,12.6,-0.03,12.7,0.08,12.8,-0.01,12.9,0.03,13.0,-0.04,13.2,0.0,13.2,0.17,13.4,0.05,13.6,-0.02,13.8,0.02,14.0,0.04,14.1,-0.01,14.2,0.02,14.3,0.06,14.4,0.0,14.6,0.09,14.8,0.02,15.0,-0.01,15.3,0.01,15.6,-0.02,16.0,0.0,16.2,0.02,16.4,-0.01,16.6,0.03,16.8,0.07,17.0,0.01,17.1,0.04,17.2,-0.02,17.3,0.05,17.4,0.02,17.5,0.08,17.6,0.03,17.7,0.06,17.8,0.02,17.9,0.11,18.0,0.04,17.7,-0.04,18.0,-0.07,18.2,0.02,18.0,0.12];
const I_6541_CORE = [12.9,0.0,13.1,0.02,13.3,-0.01,13.5,0.02,17.5,0.03,17.6,0.05,17.8,0.05,17.9,0.0];
const I_6656 = [10.9,0.0,11.3,0.07,11.5,-0.05,11.7,-0.01,11.9,-0.03,12.0,0.02,12.1,-0.02,12.2,0.04,12.3,0.0,12.4,-0.04,12.5,0.06,12.6,0.01,12.7,-0.03,12.8,0.03,12.9,-0.01,13.0,0.05,13.0,-0.06,13.1,0.02,13.2,-0.02,13.3,0.01,13.4,-0.04,13.5,0.03,13.6,-0.01,13.8,-0.03,14.0,0.04,14.2,-0.02,14.4,0.01,14.7,-0.01,15.0,0.02,15.3,0.01,15.5,-0.02,16.1,0.04,16.2,-0.02,16.4,0.01,16.5,-0.09,16.6,-0.03,16.8,0.0,17.0,0.01,17.2,-0.01,17.5,0.0,13.0,-0.1];
const I_6656_CORE = [12.6,-0.02,12.8,0.0,13.0,0.01,13.2,0.02,13.4,0.0,12.4,0.02];
const I_6681 = [13.6,0.02,13.7,-0.1,13.9,-0.06,14.0,-0.11,14.2,-0.08,14.3,-0.12,14.4,-0.09,14.5,-0.05,14.6,-0.1,14.7,-0.13,14.8,-0.07,14.9,-0.1,15.0,-0.12,15.1,-0.08,15.2,-0.11,15.3,-0.06,15.3,-0.14,15.4,-0.09,15.5,-0.12,15.6,-0.08,15.7,-0.15,15.7,-0.1,15.8,-0.07,15.9,-0.12,16.0,-0.09,16.1,-0.11,16.2,-0.08,16.3,-0.1,16.5,-0.07,16.7,-0.09,16.9,-0.07,17.0,-0.08,15.2,0.04,14.3,-0.17,15.8,-0.22,13.5,-0.18];
const I_6681_CORE = [15.0,-0.09,15.2,-0.1,15.4,-0.11,15.6,-0.1,15.8,-0.09,16.0,-0.11,15.5,-0.07,14.8,-0.12];
const I_6809 = [11.7,-0.02,12.2,-0.03,12.6,0.08,12.9,-0.02,13.0,0.06,13.2,-0.04,13.5,0.04,13.8,0.02,14.0,0.05,14.2,0.03,14.3,-0.04,14.5,0.04,14.8,0.03,15.0,0.05,15.2,0.02,15.5,0.06,15.8,0.1,16.0,0.04,16.2,0.07,16.4,0.03,16.6,0.05,16.7,0.09,16.8,0.02,16.9,0.06,17.0,0.04,17.0,0.08,17.1,0.03,17.1,0.06,17.2,0.05,17.2,0.1,17.3,0.02,17.3,0.07,17.4,0.04,17.4,0.12,17.5,0.06,17.5,0.03,17.6,0.08,17.6,0.05,17.7,0.02,17.7,0.1,17.8,0.06,17.8,0.13,17.9,0.04,17.9,0.08,18.0,0.07,18.0,0.03,18.1,0.1,18.1,0.05,18.2,0.08,18.2,0.15,18.3,0.04,18.3,0.09,18.4,0.06,18.4,0.12,18.5,0.03,18.5,0.17,18.6,0.07,18.6,0.1,18.7,0.05,18.7,0.14,18.8,0.08,18.8,0.02,18.9,0.06,18.9,0.11,19.0,0.04,19.0,0.09,19.1,0.07,19.2,0.05,17.6,0.21,18.4,-0.04,17.3,-0.06,18.0,-0.1,19.1,-0.08,16.5,-0.02,17.9,-0.02];
const I_6809_CORE = [17.05,0.05,17.15,0.07,17.25,0.04,17.35,0.06,17.45,0.08,17.55,0.04,17.65,0.07,17.75,0.05,17.85,0.09,17.95,0.06,18.05,0.05,18.15,0.08,18.25,0.06,18.35,0.1,18.45,0.07,18.55,0.05,18.65,0.09,18.75,0.06,18.85,0.1,18.95,0.07,19.05,0.06,19.15,0.1,17.1,0.11,17.5,0.13,17.9,0.12,18.3,0.14,18.7,0.12,19.0,0.13,17.3,0.0,17.7,0.0,18.1,0.01,18.5,0.0,18.9,0.01,16.9,0.03,16.5,0.07,16.1,0.05,18.8,0.18,18.2,0.19,17.4,0.16];

const B_DATA = [B_6121.concat(B_6121_CORE), B_6218.concat(B_6218_CORE), B_6254, B_6266, B_6273, B_6287.concat(B_6287_CORE), B_6352.concat(B_6352_CORE), B_6397.concat(B_6397_CORE), B_6522, B_6541.concat(B_6541_CORE), B_6656.concat(B_6656_CORE), B_6681.concat(B_6681_CORE), B_6809.concat(B_6809_CORE)];
const V_DATA = [V_6121.concat(V_6121_CORE), V_6218.concat(V_6218_CORE), V_6254, V_6266, V_6273, V_6287.concat(V_6287_CORE), V_6352.concat(V_6352_CORE), V_6397.concat(V_6397_CORE), V_6522, V_6541.concat(V_6541_CORE), V_6656.concat(V_6656_CORE), V_6681.concat(V_6681_CORE), V_6809.concat(V_6809_CORE)];
const I_DATA = [I_6121.concat(I_6121_CORE), I_6218.concat(I_6218_CORE), I_6254, I_6266, I_6273, I_6287, I_6352.concat(I_6352_CORE), I_6397.concat(I_6397_CORE), I_6522, I_6541.concat(I_6541_CORE), I_6656.concat(I_6656_CORE), I_6681.concat(I_6681_CORE), I_6809.concat(I_6809_CORE)];

const X_RANGES = [[13, 23], [12, 22], [10, 20]];
const X_TITLES = ['B', 'V', 'I'];
const Y_TITLES = ['ΔB', 'ΔV', 'ΔI'];
const COLORS = ['#0000ff', '#00ff00', '#ff0000'];

// ---------------- LAYOUT ----------------
const COL_LEFT = [90, 340, 590];
const PANEL_W = 196;
const ROW_TOP = Array.from({ length: 14 }, (_, i) => Math.round(44 + i * 53.6));
const LPAD = 42;
const RPAD = 8;
const TPAD = 6;
const BPAD = 6;
const XAXIS_H = 30;
const FONT = '"Liberation Sans", Arial, Helvetica, sans-serif';

const COLS = [
  { data: B_DATA, ymin: B_YMIN, ymax: B_YMAX, mean: B_MEAN },
  { data: V_DATA, ymin: V_YMIN, ymax: V_YMAX, mean: V_MEAN },
  { data: I_DATA, ymin: I_YMIN, ymax: I_YMAX, mean: I_MEAN },
];

function toPoints(flat: number[]) {
  const out: { x: number; y: number }[] = [];
  for (let i = 0; i + 1 < flat.length; i += 2) out.push({ x: flat[i], y: flat[i + 1] });
  return out;
}

const decoPlugin = {
  id: 'panelDeco',
  afterDatasetsDraw(chart: any, _args: any, opts: any) {
    const { ctx, chartArea: a } = chart;
    const xs = chart.scales.x;
    const ys = chart.scales.y;
    ctx.save();
    if (opts.mean !== null && opts.mean !== undefined) {
      const py = ys.getPixelForValue(opts.mean);
      ctx.lineWidth = 1.3;
      ctx.strokeStyle = '#1a1a1a';
      ctx.beginPath();
      ctx.moveTo(a.left, py);
      ctx.lineTo(a.right, py);
      ctx.stroke();
    }
    ctx.strokeStyle = '#000';
    ctx.lineWidth = 1;
    ctx.beginPath();
    const k0 = Math.ceil(xs.min / 0.5 - 1e-6);
    for (let k = k0; k * 0.5 <= xs.max + 1e-6; k++) {
      const v = k * 0.5;
      const px = Math.round(xs.getPixelForValue(v)) + 0.5;
      const len = k % 4 === 0 ? 5 : 2.5;
      ctx.moveTo(px, a.top);
      ctx.lineTo(px, a.top + len);
      ctx.moveTo(px, a.bottom);
      ctx.lineTo(px, a.bottom - len);
    }
    const j0 = Math.ceil(ys.min / 0.02 - 1e-6);
    for (let j = j0; j * 0.02 <= ys.max + 1e-6; j++) {
      const v = j * 0.02;
      const py = Math.round(ys.getPixelForValue(v)) + 0.5;
      const len = j % 5 === 0 ? 5 : 2.5;
      ctx.moveTo(a.left, py);
      ctx.lineTo(a.left + len, py);
      ctx.moveTo(a.right, py);
      ctx.lineTo(a.right - len, py);
    }
    ctx.stroke();
    ctx.lineWidth = 1.5;
    ctx.strokeRect(a.left, a.top, a.right - a.left, a.bottom - a.top);
    if (opts.name) {
      ctx.fillStyle = '#000';
      ctx.font = 'bold 10.5px ' + FONT;
      ctx.textAlign = 'right';
      ctx.textBaseline = 'alphabetic';
      ctx.fillText(opts.name, a.right - 6, a.top + 8.5);
    }
    ctx.restore();
  },
};

function innerMultiples(min: number, max: number, step: number) {
  const out: { value: number }[] = [];
  const k0 = Math.ceil(min / step - 1e-6);
  for (let k = k0; k * step <= max + 1e-6; k++) {
    const v = Math.round(k * step * 1000) / 1000;
    if (Math.abs(v - min) < step * 0.1 || Math.abs(v - max) < step * 0.1) continue;
    out.push({ value: v });
  }
  return out;
}

function fmtY(v: number) {
  const r = Math.round(v * 10) / 10;
  if (r === 0) return '0';
  return String(r).replace('-', '\u2212');
}

function Panel({ col, row }: { col: number; row: number }) {
  const ref = useRef<HTMLCanvasElement>(null);
  const isBottom = row === 12;
  const rowTop = ROW_TOP[row];
  const rowH = ROW_TOP[row + 1] - rowTop;
  const w = LPAD + PANEL_W + RPAD;
  const h = TPAD + rowH + (isBottom ? XAXIS_H : BPAD);
  const left = COL_LEFT[col] - LPAD;
  const top = rowTop - TPAD;

  useEffect(() => {
    const c = COLS[col];
    const ymin = c.ymin[row];
    const ymax = c.ymax[row];
    const xmin = X_RANGES[col][0];
    const xmax = X_RANGES[col][1];
    const tickFont = { family: FONT, size: 10, weight: 'bold' as const };
    const xScale: any = {
      type: 'linear',
      min: xmin,
      max: xmax,
      display: isBottom,
      grid: { display: false, drawTicks: false },
      border: { display: false },
      ticks: {
        autoSkip: false,
        maxRotation: 0,
        padding: 5,
        color: '#000',
        font: tickFont,
        callback: (v: any) => String(Math.round(Number(v))),
      },
      afterBuildTicks: (s: any) => {
        const t: { value: number }[] = [];
        for (let v = Math.ceil(xmin / 2) * 2; v <= xmax; v += 2) t.push({ value: v });
        s.ticks = t;
      },
      title: { display: true, text: X_TITLES[col], color: '#000', font: tickFont, padding: { top: 0, bottom: 1 } },
    };
    if (isBottom) {
      xScale.afterFit = (s: any) => {
        s.height = XAXIS_H;
        s.paddingLeft = 0;
        s.paddingRight = 0;
      };
    }
    const chart = new Chart(ref.current as HTMLCanvasElement, {
      type: 'scatter',
      data: {
        datasets: [
          {
            data: toPoints(c.data[row]),
            backgroundColor: COLORS[col],
            borderWidth: 0,
            pointRadius: 1.15,
            pointHoverRadius: 1.15,
            pointStyle: 'rect',
            clip: 0,
          } as any,
        ],
      },
      options: {
        responsive: false,
        animation: false,
        devicePixelRatio: 1,
        events: [],
        layout: { padding: { left: 0, top: TPAD, right: RPAD, bottom: isBottom ? 0 : BPAD } },
        plugins: {
          legend: { display: false },
          tooltip: { enabled: false },
          panelDeco: { mean: c.mean[row], name: col === 0 ? CLUSTERS[row] : '' },
        } as any,
        scales: {
          x: xScale,
          y: {
            type: 'linear',
            min: ymin,
            max: ymax,
            grid: { display: false, drawTicks: false },
            border: { display: false },
            ticks: {
              autoSkip: false,
              padding: 5,
              color: '#000',
              font: tickFont,
              callback: (v: any) => fmtY(Number(v)),
            },
            afterBuildTicks: (s: any) => {
              s.ticks = innerMultiples(ymin, ymax, 0.1);
            },
            title: { display: true, text: Y_TITLES[col], color: '#000', font: tickFont, padding: { top: 5, bottom: 0 } },
            afterFit: (s: any) => {
              s.width = LPAD;
              s.paddingTop = 0;
              s.paddingBottom = 0;
            },
          },
        },
      } as any,
      plugins: [decoPlugin as any],
    });
    return () => chart.destroy();
  }, [col, row]);

  return (
    <canvas
      ref={ref}
      width={w}
      height={h}
      style={{ position: 'absolute', left, top, width: w, height: h }}
    />
  );
}

export default function App() {
  const panels: React.ReactElement[] = [];
  for (let col = 0; col < 3; col++) {
    for (let row = 0; row < 13; row++) {
      panels.push(<Panel key={col + '-' + row} col={col} row={row} />);
    }
  }
  return (
    <div style={{ position: 'fixed', left: 0, top: 0, width: 830, height: 830, background: '#fff', overflow: 'hidden' }}>
      {panels}
    </div>
  );
}
